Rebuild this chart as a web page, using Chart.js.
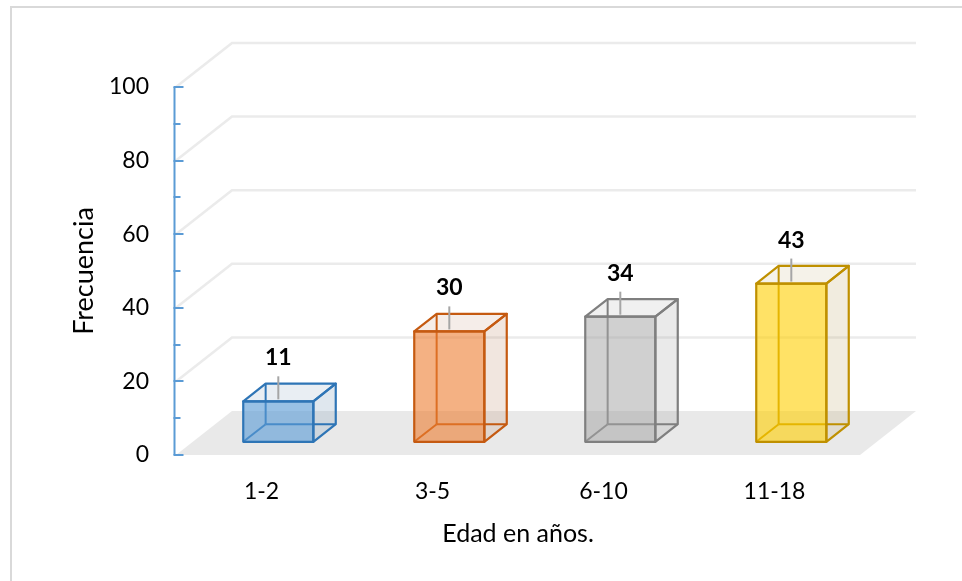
<!DOCTYPE html>
<html>
<head>
<meta charset="utf-8">
<script src="https://cdn.jsdelivr.net/npm/chart.js@4.4.1/dist/chart.umd.min.js"></script>
<style>
  html, body { margin: 0; padding: 0; background: #fff; }
  #wrap { width: 962px; height: 581px; }
</style>
</head>
<body>
<div id="wrap"><canvas id="myBarChart" width="962" height="581"></canvas></div>
<script>
var ageGroups = ["1-2", "3-5", "6-10", "11-18"];
var frequency = [11, 30, 34, 43];
var yMin = 0, yMax = 100, yStep = 20;

// column colours: outline, front face, side faces
var edgeColors = ["#2e75b6", "#c55a11", "#7f7f7f", "#bf9000"];
var faceColors = ["rgba(91,155,213,0.62)", "rgba(237,125,49,0.6)", "rgba(165,165,165,0.52)", "rgba(255,206,0,0.6)"];
var sideColors = ["rgba(150,175,200,0.3)", "rgba(190,140,110,0.22)", "rgba(150,150,150,0.2)", "rgba(190,170,110,0.22)"];

var depthX = 56, depthY = -44;   // how far the back wall sits from the front plane
var boxFront = 0.3, boxBack = 0.7; // columns stand in the middle of the floor depth
var axisBlue = "#5b9bd5";
var wallGrey = "#ebebeb";

function pt(x, y, d) {
  return [x + d * depthX, y + d * depthY];
}

function poly(ctx, pts) {
  ctx.beginPath();
  ctx.moveTo(pts[0][0], pts[0][1]);
  for (var i = 1; i < pts.length; i++) ctx.lineTo(pts[i][0], pts[i][1]);
  ctx.closePath();
}

function seg(ctx, a, b) {
  ctx.beginPath();
  ctx.moveTo(a[0], a[1]);
  ctx.lineTo(b[0], b[1]);
  ctx.stroke();
}

var box3d = {
  id: 'box3d',
  beforeDraw: function (chart) {
    var ctx = chart.ctx;
    ctx.save();
    ctx.fillStyle = "#fff";
    ctx.fillRect(0, 0, chart.width, chart.height);
    ctx.strokeStyle = "#d9d9d9";
    ctx.lineWidth = 2;
    ctx.strokeRect(11, 7, chart.width + 10, chart.height + 10);
    ctx.restore();
  },
  beforeDatasetsDraw: function (chart) {
    var ctx = chart.ctx, area = chart.chartArea, y = chart.scales.y;
    var y0 = y.getPixelForValue(yMin);
    ctx.save();
    // floor
    ctx.fillStyle = "#e9e9e9";
    poly(ctx, [[area.left, y0], [area.right, y0], pt(area.right, y0, 1), pt(area.left, y0, 1)]);
    ctx.fill();
    // side and back wall gridlines
    ctx.strokeStyle = wallGrey;
    ctx.lineWidth = 2.5;
    for (var v = yMin + yStep; v <= yMax; v += yStep) {
      var py = y.getPixelForValue(v);
      var back = pt(area.left, py, 1);
      ctx.beginPath();
      ctx.moveTo(area.left, py);
      ctx.lineTo(back[0], back[1]);
      ctx.lineTo(area.right + depthX, back[1]);
      ctx.stroke();
    }
    // vertical axis with inside tick marks
    var ax = area.left - 1.5;
    ctx.strokeStyle = axisBlue;
    ctx.lineWidth = 2;
    seg(ctx, [ax, y.getPixelForValue(yMax)], [ax, y0]);
    for (var t = yMin; t <= yMax; t += yStep / 2) {
      var ty = Math.round(y.getPixelForValue(t));
      var len = (t % yStep === 0) ? 9 : 6;
      seg(ctx, [ax - 1, ty], [ax + len, ty]);
    }
    ctx.restore();
  },
  afterDatasetsDraw: function (chart) {
    var ctx = chart.ctx;
    var meta = chart.getDatasetMeta(0);
    var values = chart.data.datasets[0].data;
    ctx.save();
    ctx.lineJoin = "round";
    meta.data.forEach(function (bar, i) {
      var x0 = bar.x - bar.width / 2, x1 = bar.x + bar.width / 2;
      var top = bar.y, bot = bar.base;
      var fTL = pt(x0, top, boxFront), fTR = pt(x1, top, boxFront);
      var fBL = pt(x0, bot, boxFront), fBR = pt(x1, bot, boxFront);
      var bTL = pt(x0, top, boxBack), bTR = pt(x1, top, boxBack);
      var bBL = pt(x0, bot, boxBack), bBR = pt(x1, bot, boxBack);

      // see-through back faces
      ctx.fillStyle = sideColors[i];
      poly(ctx, [fTR, bTR, bBR, fBR]);
      ctx.fill();
      ctx.globalAlpha = 0.7;
      poly(ctx, [fTL, fTR, bTR, bTL]);
      ctx.fill();
      ctx.globalAlpha = 1;

      ctx.strokeStyle = edgeColors[i];
      ctx.lineWidth = 2;
      seg(ctx, bTL, bBL);
      seg(ctx, bBL, bBR);
      seg(ctx, fBL, bBL);

      // front face over the hidden edges
      ctx.fillStyle = faceColors[i];
      poly(ctx, [fTL, fTR, fBR, fBL]);
      ctx.fill();

      ctx.lineWidth = 2.2;
      poly(ctx, [fTL, fTR, fBR, fBL]);
      ctx.stroke();
      poly(ctx, [fTL, bTL, bTR, fTR]);
      ctx.stroke();
      poly(ctx, [fTR, bTR, bBR, fBR]);
      ctx.stroke();

      // value label with its leader line
      var cx = (fTL[0] + fTR[0]) / 2;
      ctx.strokeStyle = "#a6a6a6";
      ctx.lineWidth = 2;
      seg(ctx, [cx, fTL[1] - 25], [cx, fTL[1] - 2]);
      ctx.fillStyle = "#000";
      ctx.font = "bold 23px Lato";
      ctx.textAlign = "center";
      ctx.textBaseline = "alphabetic";
      ctx.fillText(String(values[i]), cx, fTL[1] - 36);
    });
    ctx.restore();
  }
};

window.myBarChart = new Chart("myBarChart", {
  type: "bar",
  data: {
    labels: ageGroups,
    datasets: [{
      label: "Frecuencia",
      data: frequency,
      backgroundColor: "rgba(0,0,0,0)",
      borderWidth: 0,
      categoryPercentage: 1,
      barPercentage: 0.41
    }]
  },
  options: {
    responsive: false,
    animation: false,
    layout: { padding: { top: 87, right: 102, left: 0, bottom: 0 } },
    plugins: {
      legend: { display: false },
      tooltip: { enabled: false }
    },
    scales: {
      x: {
        grid: { display: false },
        border: { display: false },
        ticks: { color: "#000", font: { family: "Lato", size: 23 }, padding: 15 },
        title: {
          display: true,
          text: "Edad en años.",
          color: "#000",
          font: { family: "Lato", size: 25 },
          padding: { top: 0, bottom: 32 }
        },
        afterFit: function (scale) { scale.height = 126; }
      },
      y: {
        min: yMin,
        max: yMax,
        grid: { display: false },
        border: { display: false },
        ticks: { stepSize: yStep, color: "#000", font: { family: "Lato", size: 23 }, padding: 19 },
        title: {
          display: true,
          text: "Frecuencia",
          color: "#000",
          font: { family: "Lato", size: 27 },
          padding: { top: 68, bottom: 0 }
        },
        afterFit: function (scale) { scale.width = 176; }
      }
    }
  },
  plugins: [box3d]
});
</script>
</body>
</html>
